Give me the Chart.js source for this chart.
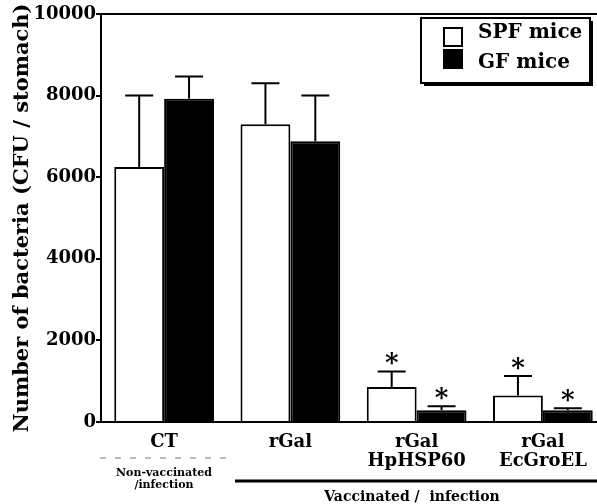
<!DOCTYPE html>
<html>
<head>
<meta charset="utf-8">
<script src="https://cdn.jsdelivr.net/npm/chart.js@4"></script>
<style>
  html, body { margin: 0; padding: 0; background: #fff; overflow: hidden; }
  #wrap { width: 606px; height: 504px; }
</style>
</head>
<body>
<div id="wrap"><canvas id="chart"></canvas></div>
<script>
const categories = ['CT', 'rGal', ['rGal', 'HpHSP60'], ['rGal', 'EcGroEL']];
const spfMice = [6250, 7300, 860, 650];
const spfErr = [1750, 1000, 380, 480];
const gfMice = [7920, 6880, 290, 290];
const gfErr = [550, 1120, 95, 50];
const significant = [false, false, true, true];
const yTicks = [0, 2000, 4000, 6000, 8000, 10000];

const serif = '"DejaVu Serif", serif';

// error bars, asterisks, legend box and the group notes under the axis
const extras = {
  id: 'extras',
  afterDatasetsDraw(chart) {
    const ctx = chart.ctx;
    const y = chart.scales.y;
    const area = chart.chartArea;
    const errs = [spfErr, gfErr];

    ctx.save();
    ctx.strokeStyle = '#000';
    ctx.fillStyle = '#000';
    ctx.lineWidth = 2;

    // top frame line
    ctx.beginPath();
    ctx.moveTo(area.left, area.top);
    ctx.lineTo(area.right, area.top);
    ctx.stroke();

    chart.data.datasets.forEach((ds, i) => {
      const meta = chart.getDatasetMeta(i);
      meta.data.forEach((bar, j) => {
        const top = y.getPixelForValue(ds.data[j] + errs[i][j]);
        ctx.beginPath();
        ctx.moveTo(bar.x, bar.y);
        ctx.lineTo(bar.x, top);
        ctx.moveTo(bar.x - 14, top);
        ctx.lineTo(bar.x + 14, top);
        ctx.stroke();
        if (significant[j]) {
          ctx.font = 'bold 26px ' + serif;
          ctx.textAlign = 'center';
          ctx.textBaseline = 'alphabetic';
          ctx.fillText('*', bar.x, top);
        }
      });
    });

    // legend
    ctx.fillStyle = '#000';
    ctx.fillRect(424, 21, 169, 65);
    ctx.fillStyle = '#fff';
    ctx.fillRect(421, 18, 169, 65);
    ctx.strokeRect(421, 18, 169, 65);
    ctx.font = 'bold 20px ' + serif;
    ctx.textAlign = 'left';
    ctx.textBaseline = 'middle';
    const legendY = [33, 63];
    chart.data.datasets.forEach((ds, i) => {
      const cy = 37 + i * 22;
      ctx.fillStyle = ds.backgroundColor;
      ctx.fillRect(444, cy - 9, 18, 18);
      ctx.strokeRect(444, cy - 9, 18, 18);
      ctx.fillStyle = '#000';
      ctx.fillText(ds.label, 478, legendY[i]);
    });

    // group notes
    ctx.textAlign = 'center';
    ctx.font = 'bold 11px ' + serif;
    ctx.fillText('Non-vaccinated', 164, 473);
    ctx.fillText('/infection', 164, 485);
    ctx.lineWidth = 1;
    ctx.strokeStyle = '#777';
    ctx.setLineDash([6, 9]);
    ctx.beginPath();
    ctx.moveTo(100, 458);
    ctx.lineTo(232, 458);
    ctx.stroke();
    ctx.setLineDash([]);
    ctx.strokeStyle = '#000';
    ctx.lineWidth = 3;
    ctx.beginPath();
    ctx.moveTo(235, 481);
    ctx.lineTo(606, 481);
    ctx.stroke();
    ctx.font = 'bold 14px ' + serif;
    ctx.fillText('Vaccinated /  infection', 412, 497);
    ctx.restore();
  }
};

new Chart(document.getElementById('chart'), {
  type: 'bar',
  data: {
    labels: categories,
    datasets: [{
      label: 'SPF mice',
      data: spfMice,
      backgroundColor: '#fff',
      borderColor: '#000',
      borderWidth: 2
    }, {
      label: 'GF mice',
      data: gfMice,
      backgroundColor: '#000',
      borderColor: '#000',
      borderWidth: 2
    }]
  },
  options: {
    responsive: true,
    maintainAspectRatio: false,
    animation: false,
    layout: { padding: { top: 14, left: 0, right: 0, bottom: 0 } },
    categoryPercentage: 0.79,
    barPercentage: 1,
    plugins: {
      legend: { display: false },
      tooltip: { enabled: false }
    },
    scales: {
      x: {
        afterFit: (s) => { s.height = 82; },
        grid: { display: false },
        border: { color: '#000', width: 2 },
        ticks: {
          color: '#000',
          padding: 2,
          font: { family: serif, size: 18, weight: 'bold', lineHeight: 1.1 }
        }
      },
      y: {
        min: 0,
        max: 10000,
        afterFit: (s) => { s.width = 101; },
        afterBuildTicks: (s) => { s.ticks = yTicks.map(v => ({ value: v })); },
        grid: { drawOnChartArea: false, color: '#000', lineWidth: 2, tickLength: 5 },
        border: { color: '#000', width: 2 },
        ticks: {
          color: '#000',
          padding: 0,
          callback: (v) => String(v),
          font: { family: serif, size: 18, weight: 'bold' }
        },
        title: {
          display: true,
          text: 'Number of bacteria (CFU / stomach)',
          color: '#000',
          padding: { top: 10, bottom: 0 },
          font: { family: serif, size: 21, weight: 'bold' }
        }
      }
    }
  },
  plugins: [extras]
});
</script>
</body>
</html>
